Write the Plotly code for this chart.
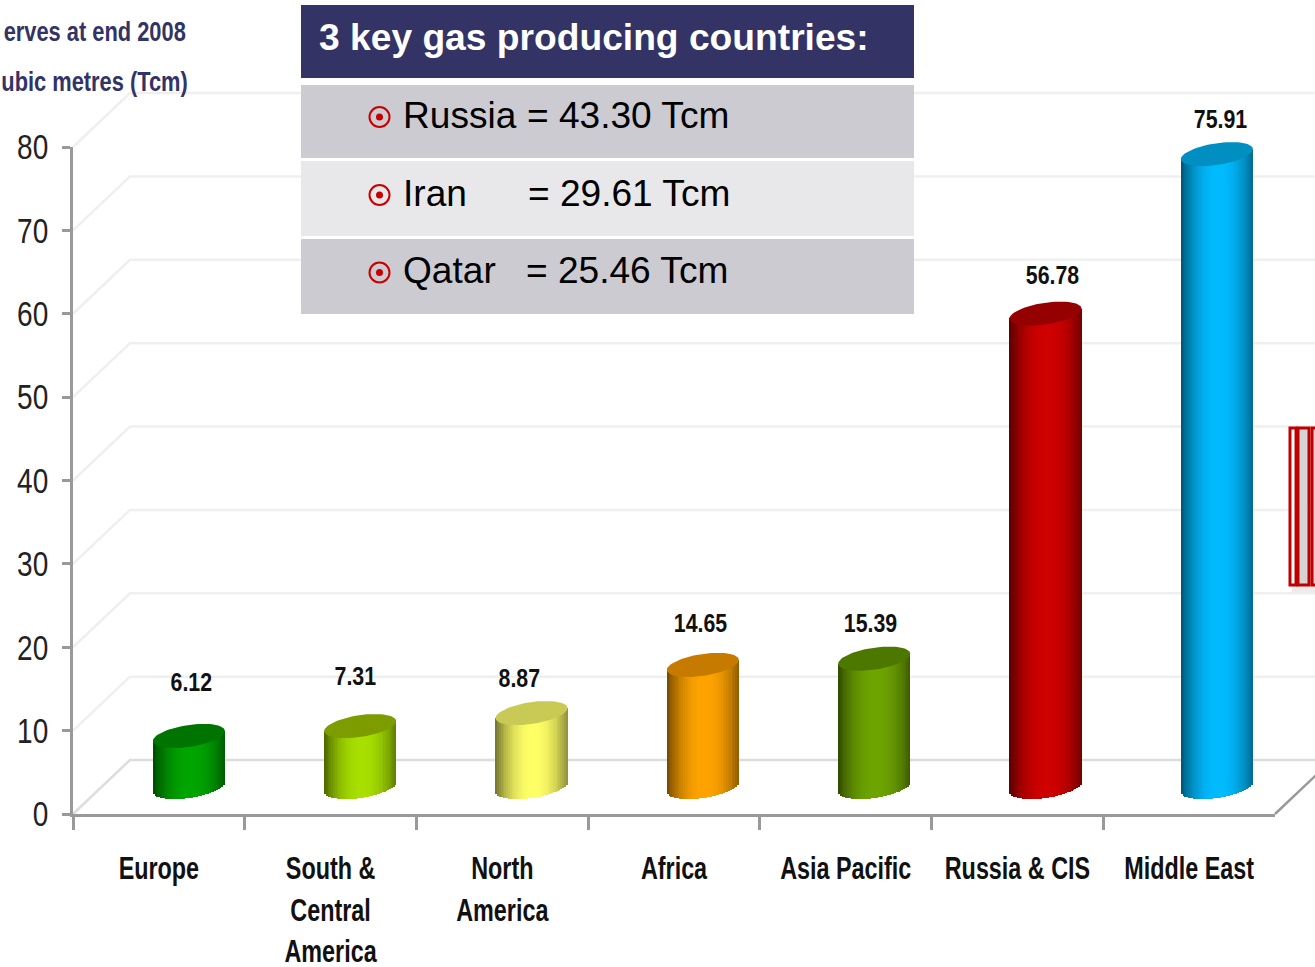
import math
import plotly.graph_objects as go

# ---- data ----
categories = ["Europe", "South &<br>Central<br>America", "North<br>America", "Africa",
              "Asia Pacific", "Russia & CIS", "Middle East"]
reserves = [6.12, 7.31, 8.87, 14.65, 15.39, 56.78, 75.91]
value_labels = ["6.12", "7.31", "8.87", "14.65", "15.39", "56.78", "75.91"]
y_ticks = [0, 10, 20, 30, 40, 50, 60, 70, 80]
side_colors = [(0, 165, 0), (168, 224, 0), (255, 255, 102), (255, 163, 0),
               (110, 165, 0), (208, 0, 0), (0, 187, 255)]
top_colors = ["#007400", "#7c9c00", "#c9c955", "#c67a00", "#4c7800", "#950000", "#008fc0"]
label_dx = [3, -5, -12, -2, -4, 7, 4]
label_dy = [54, 50, 35, 42, 36, 39, 35]
countries = ["Russia", "Iran", "Qatar"]
country_vals = ["= 43.30 Tcm", "= 29.61 Tcm", "= 25.46 Tcm"]

# ---- geometry of the picture, in pixels ----
W, H = 1315, 967
X0, X1 = 73, 1275       # plot left / right
Y0, Y80 = 814, 147      # value 0 / value 80
PX_X = (X1 - X0) / 7
PX_Y = (Y0 - Y80) / 80
SANS = "Liberation Sans, Arial, sans-serif"
NAVY = "#333366"
RED = "#c00000"

def fx(px): return (px - X0) / PX_X - 0.5
def fy(py): return (Y0 - py) / PX_Y

off_x, off_y = 30 / PX_X, 27 / PX_Y            # cylinder centre depth shift
pitch = 171.33 / PX_X                          # cylinders sit slightly tighter than the ticks
back_x, back_y = 57 / PX_X, 54 / PX_Y          # back wall depth shift
a, b, s = 36 / PX_X, 11 / PX_Y, 5 / PX_Y       # ellipse radii and tilt

fig = go.Figure()

# back wall / side wall grid lines (lowest subplot)
for t in y_ticks:
    fig.add_trace(go.Scatter(
        x=[-0.5, -0.5 + back_x, fx(W + 5)], y=[t, t + back_y, t + back_y],
        mode="lines", line=dict(color="#dddddd" if t == 0 else "#efefef", width=2.5),
        hoverinfo="skip", showlegend=False))
# right floor edge
fig.add_trace(go.Scatter(x=[6.5, 6.5 + back_x], y=[0, back_y], mode="lines",
                         line=dict(color="#999999", width=2.5), hoverinfo="skip", showlegend=False))

# hidden trace that gives the visible category axis its categories
fig.add_trace(go.Scatter(x=categories, y=reserves, xaxis="x2", yaxis="y2", mode="markers",
                         marker=dict(opacity=0), hoverinfo="skip", showlegend=False))

# cylinder sides as strips of a bar trace
N = 40
bx, bb, bh, bc = [], [], [], []
for i, v in enumerate(reserves):
    r0, g0, b0 = side_colors[i]
    for k in range(N):
        u = -1 + (k + 0.5) * 2 / N
        # lighting: bright just right of centre, dark at both rims
        d = abs(u - 0.05) / 1.05
        f = 1 - 0.55 * d ** 2.2
        bx.append(i * pitch + off_x + u * a)
        base = off_y - b * math.sqrt(max(0, 1 - u * u)) + s * u
        top = off_y + v + s * u
        bb.append(base)
        bh.append(top - base)
        bc.append(f"rgb({int(r0 * f)},{int(g0 * f)},{int(b0 * f)})")
fig.add_trace(go.Bar(x=bx, y=bh, base=bb, width=[2 * a / N * 1.15] * len(bx), xaxis="x3", yaxis="y3",
                     marker=dict(color=bc, line=dict(width=0)), hoverinfo="skip", showlegend=False))

# cylinder tops
for i, v in enumerate(reserves):
    ts = [2 * math.pi * k / 72 for k in range(73)]
    fig.add_trace(go.Scatter(
        x=[i * pitch + off_x + a * math.cos(t) for t in ts],
        y=[off_y + v + b * math.sin(t) + s * math.cos(t) for t in ts],
        xaxis="x3", yaxis="y3",
        mode="lines", fill="toself", fillcolor=top_colors[i], line=dict(width=0),
        hoverinfo="skip", showlegend=False))

# value labels
ann = []
for i, v in enumerate(reserves):
    ann.append(dict(x=i * pitch + off_x, y=off_y + v, xref="x3", yref="y3", text=f"<b>{value_labels[i]}</b>",
                    showarrow=False, xshift=label_dx[i], yshift=label_dy[i],
                    font=dict(family=SANS, size=26, color="#111111"), xanchor="center", yanchor="middle"))

def paper_text(text, px, py, size, color="black", anchor="left", bold=False):
    ann.append(dict(x=px / W, y=1 - py / H, xref="paper", yref="paper", showarrow=False,
                    text=f"<b>{text}</b>" if bold else text, xanchor=anchor, yanchor="middle",
                    font=dict(family=SANS, size=size, color=color)))

paper_text("erves at end 2008", 95, 31, 28, NAVY, "center", True)
paper_text("ubic metres (Tcm)", 95, 81, 28, NAVY, "center", True)
paper_text("3 key gas producing countries:", 317, 37, 37.2, "white", "left", True)

# ---- panel and decorations ----
def rect(x0, y0, x1, y1, fill=None, line=None, lw=0, kind="rect"):
    return dict(type=kind, xref="paper", yref="paper", layer="above",
                x0=x0 / W, x1=x1 / W, y0=1 - y1 / H, y1=1 - y0 / H,
                fillcolor=fill or "rgba(0,0,0,0)",
                line=dict(color=line or "rgba(0,0,0,0)", width=lw))

shapes = [rect(301, 5, 914, 78, NAVY)]
rows = [(85, 158, "#cbcbd1", 115), (161, 236, "#e8e8ea", 193), (239, 314, "#cbcbd1", 270.5)]
val_x = [525, 526, 524]
for (y0, y1, col, yc), name, val, vx in zip(rows, countries, country_vals, val_x):
    shapes.append(rect(301, y0, 914, y1, col))
    shapes.append(rect(369.5, yc - 8, 389.5, yc + 12, None, "#c80000", 2, "circle"))
    shapes.append(rect(376, yc - 1.5, 383, yc + 5.5, "#c80000", None, 0, "circle"))
    paper_text(name, 401, yc, 37.1)
    paper_text(val, vx, yc, 37.1)

# clipped red boxes at the right edge
shapes += [rect(1292, 586, 1320, 593, "#ececec"),
           rect(1290, 428, 1296, 585, "white", RED, 3),
           rect(1298, 428, 1309, 585, "#d4d4d4", RED, 3),
           rect(1312, 428, 1320, 585, "#d4d4d4", RED, 3)]

full_x = dict(domain=[0, 1], range=[fx(0), fx(W)], visible=False, fixedrange=True, automargin=False)
full_y = dict(domain=[0, 1], range=[fy(H), fy(0)], visible=False, fixedrange=True, automargin=False)

fig.update_layout(
    width=W, height=H, margin=dict(l=0, r=0, t=0, b=0, pad=0), autosize=False,
    paper_bgcolor="white", plot_bgcolor="rgba(0,0,0,0)", showlegend=False,
    barmode="overlay", bargap=0, annotations=ann, shapes=shapes,
    # full-page layers carrying the pseudo-3D drawing
    xaxis=dict(full_x, anchor="y"),
    yaxis=dict(full_y, anchor="x"),
    xaxis3=dict(full_x, anchor="y3"),
    yaxis3=dict(full_y, anchor="x3"),
    # real chart axes
    xaxis2=dict(domain=[X0 / W, X1 / W], anchor="y2", type="category", categoryorder="array",
                categoryarray=categories, range=[-0.5, 6.5], tickson="boundaries", ticks="outside",
                ticklen=13, tickwidth=2.5, tickcolor="#999999", showline=True, linecolor="#999999",
                linewidth=2.5, showgrid=False, zeroline=False, tickangle=0, ticklabelstandoff=24,
                automargin=False, fixedrange=True,
                tickfont=dict(family=SANS, size=32, color="#111111", weight=700)),
    yaxis2=dict(domain=[1 - Y0 / H, 1 - Y80 / H], anchor="x2", range=[0, 80], tickvals=y_ticks,
                ticks="outside", ticklen=8, tickwidth=2.5, tickcolor="#999999", showline=True,
                linecolor="#999999", linewidth=2.5, showgrid=False, zeroline=False,
                ticklabelstandoff=7, automargin=False, fixedrange=True,
                tickfont=dict(family=SANS, size=35, color="#222222")),
)

# the reference uses a narrow face; squeeze the real text horizontally to that width
squeeze_js = """
document.body.style.margin='0';document.body.style.overflow='hidden';
function squeeze(t,k){var sp=t.querySelectorAll('tspan.line');var els=sp.length?Array.from(sp):[t];
 els.forEach(function(e){var w=e.getComputedTextLength();e.setAttribute('textLength',w*k);
 e.setAttribute('lengthAdjust','spacingAndGlyphs');});}
document.querySelectorAll('.xaxislayer-above text').forEach(function(t){squeeze(t,0.73);});
document.querySelectorAll('.yaxislayer-above text').forEach(function(t){squeeze(t,0.80);});
document.querySelectorAll('.annotation-text').forEach(function(t){
 var fs=t.style.fontSize; if(fs=='26px')squeeze(t,0.82); if(fs=='28px')squeeze(t,0.78);});
"""
fig.write_html("out.html", config=dict(displayModeBar=False), post_script=squeeze_js)
